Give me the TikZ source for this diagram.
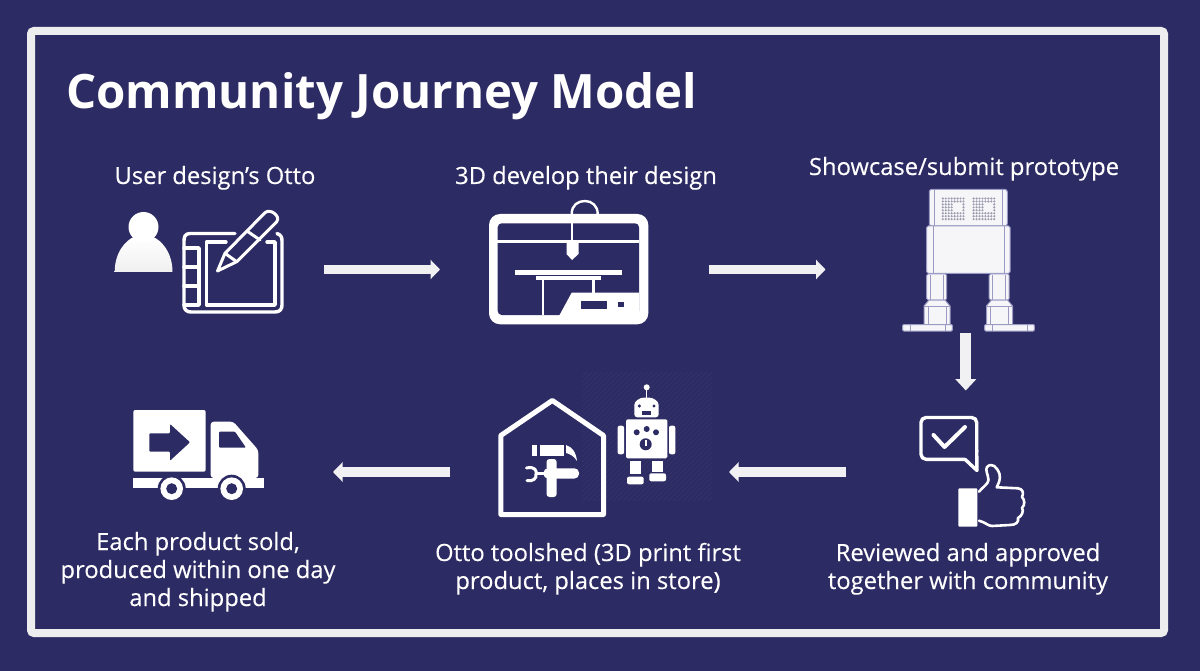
\documentclass[tikz,border=0pt]{standalone}
\usepackage{fontspec}
\setmainfont{Open Sans}
\newfontfamily\capf[FakeBold=0.25]{Open Sans}
\usetikzlibrary{arrows.meta}
\definecolor{bgc}{HTML}{2D2B63}
\definecolor{framec}{HTML}{EDEDEF}
\definecolor{arrowc}{HTML}{F1F1F3}
\definecolor{otline}{HTML}{9A9AC4}
\definecolor{otfill}{HTML}{F6F6F9}
\definecolor{otdot}{HTML}{9C9CAE}
\definecolor{hatchc}{HTML}{343269}
\tikzset{
  caption/.style={text=white,font=\capf\fontsize{23.75}{24}\selectfont,anchor=base,inner sep=0pt,align=center},
  titletext/.style={text=white,font=\fontsize{47.4}{47}\selectfont\bfseries,anchor=base west,inner sep=0pt},
  flowh/.style={draw=arrowc,line width=9.5pt,-{Triangle[width=19pt,length=9.5pt,fill=arrowc]},shorten >=0pt},
  flowv/.style={draw=arrowc,line width=11pt,-{Triangle[width=20.5pt,length=11.5pt,fill=arrowc]}},
  iconline/.style={draw=white,line width=3.4pt,line cap=round,line join=round},
  otpart/.style={fill=otfill,draw=otline,line width=1pt,line join=round},
}
\begin{document}
\begin{tikzpicture}[x=1pt,y=-1pt]
\useasboundingbox (0,0) rectangle (1200,671);
\fill[bgc] (0,0) rectangle (1200,671);
\draw[framec,line width=8pt,rounded corners=3pt] (31,31) rectangle (1164,633);
\node[titletext] (title) at (66,109) {Community Journey Model};

% captions
\node[caption] (c1) at (215,184) {User design’s Otto};
\node[caption] (c2) at (586,184) {3D develop their design};
\node[caption] (c3) at (964,175) {Showcase/submit prototype};
\node[caption,align=center] (c4a) at (968,561) {Reviewed and approved};
\node[caption] (c4b) at (968,589) {together with community};
\node[caption] (c5a) at (588,561) {Otto toolshed (3D print first};
\node[caption] (c5b) at (588,589) {product, places in store)};
\node[caption] (c6a) at (198,550) {Each product sold,};
\node[caption] (c6b) at (198,578) {produced within one day};
\node[caption] (c6c) at (198,606) {and shipped};

% arrow end points
\coordinate (a1s) at (323.5,269.5); \coordinate (a1e) at (440,269.5);
\coordinate (a2s) at (708.5,269.5); \coordinate (a2e) at (825.5,269.5);
\coordinate (a3s) at (965.8,333);   \coordinate (a3e) at (965.8,390.5);
\coordinate (a4s) at (846,472);     \coordinate (a4e) at (729,472);
\coordinate (a5s) at (450,472);     \coordinate (a5e) at (333,472);
\draw[flowh] (a1s) -- (a1e);
\draw[flowh] (a2s) -- (a2e);
\draw[flowv] (a3s) -- (a3e);
\draw[flowh] (a4s) -- (a4e);
\draw[flowh] (a5s) -- (a5e);

% --- person
\shade[top color=white,bottom color=white!88!gray,draw=none]
  (114.7,272) .. controls (114.7,252) and (126,240) .. (134,237) -- (153,237)
  .. controls (161,240) and (172.5,252) .. (172.5,272) -- cycle;
\fill[white] (143.5,227) circle (15);

% --- tablet
\draw[iconline] (235,233.5) -- (190,233.5) .. controls (185,233.5) and (184,237) .. (184,241) -- (184,305)
  .. controls (184,310) and (187,312) .. (191,312) -- (275,312) .. controls (280,312) and (282,309) .. (282,305)
  -- (282,241) .. controls (282,237) and (281,235) .. (277,233.5);
\draw[iconline] (184,248) -- (199,248) -- (199,305) -- (184,305);
\draw[iconline] (184,267) -- (199,267);
\draw[iconline] (184,286) -- (199,286);
\draw[iconline] (226,242) -- (206.5,242) -- (206.5,305) -- (275,305) -- (275,242) -- (267,242);
% pen
\draw[iconline,line width=3pt] (217.5,271) -- (225,253.3) -- (265,212.7) .. controls (270,208) and (281,216) .. (276.7,221.7)
  -- (236.7,261.7) -- cycle;
\draw[iconline,line width=3pt] (225,253.3) -- (236.7,261.7);
\draw[iconline,line width=3pt] (248,231.7) -- (260,240);

% --- printer
\fill[white,rounded corners=11pt] (489,214) rectangle (648.3,324.3);
\fill[bgc,rounded corners=4pt] (497.7,223.3) rectangle (639,315);
\draw[white,line width=2.4pt] (497,241.7) -- (639,241.7);
\draw[white,line width=2.4pt] (571.7,223) -- (571.7,214) .. controls (571.7,205) and (578,201) .. (585,201)
  .. controls (592,201) and (597.7,206) .. (597.7,214);
\draw[white,line width=2.4pt] (571.7,223) -- (571.7,245);
\fill[white] (566.5,242) -- (578.5,242) -- (578.5,254) -- (572,260) -- (566.5,254) -- cycle;
\fill[white] (515,270) rectangle (621.7,274.7);
\fill[white] (536,276) rectangle (600.7,279.6);
\fill[white] (541.6,279) rectangle (544.2,315);
\fill[white] (592.2,279) rectangle (594.8,294);
\fill[white] (571.7,292.7) -- (639,292.7) -- (639,316) -- (559,316) -- cycle;
\fill[bgc] (581,300.7) rectangle (607.3,309.3);
\fill[bgc] (618.3,301.7) rectangle (623.7,307.3);

% --- Otto robot
\draw[otpart,rounded corners=2.5pt] (929.3,226) -- (929.3,189.3) -- (1007.3,189.3) -- (1007.3,226) -- cycle;
\draw[otline,line width=1pt] (934,190) -- (934,226) (1002,190) -- (1002,226);
\foreach \ex in {942.8,973.6}{
  \foreach \i in {0,...,7}{
    \foreach \j in {0,...,7}{
      \pgfmathtruncatemacro{\hole}{(\i>=4 && \i<=6 && \j>=2 && \j<=4) ? 1 : 0}
      \ifnum\hole=0
        \fill[otdot] ({\ex+\i*2.95},{198.5+\j*2.95}) circle (1.2);
      \fi
    }
  }
}
\draw[otpart,rounded corners=1.5pt] (926.7,226) rectangle (1010,273.3);
\draw[otline,line width=1pt] (933,226) -- (933,273) (1004,226) -- (1004,273);
\foreach \dx/\fx in {0/0,62.5/82}{
  \begin{scope}[shift={(\dx,0)}]
    \draw[otpart,rounded corners=1.5pt] (926.7,274) rectangle (946.7,300);
    \draw[otline,line width=.8pt] (930,275) -- (930,300) (943,275) -- (943,300);
    \draw[otpart] (924,325) -- (924,306) -- (929,300) -- (945,300) -- (950,306) -- (950,325) -- cycle;
    \draw[otline,line width=.8pt] (928,325) -- (928,306) (946,325) -- (946,306) (924,306) -- (950,306);
  \end{scope}
  \begin{scope}[shift={(\fx,0)}]
    \draw[otpart,rounded corners=1pt] (902.7,324.5) rectangle (952.3,331);
    \draw[otline,line width=.8pt] (910,325) -- (910,331) (945,325) -- (945,331);
  \end{scope}
}

% --- bubble + thumb
\draw[iconline,rounded corners=5pt] (965,459.3) -- (921,459.3) -- (921,417.5) -- (976.7,417.5) -- (976.7,452);
\draw[iconline] (965,459.3) -- (977,470.5) -- (976.7,450);
\draw[iconline,line width=4pt] (933.5,435) -- (944.5,447) -- (965,427);
\fill[white,rounded corners=1pt] (958.3,488.3) rectangle (977.3,526.7);
\draw[iconline,line width=2.6pt] (979,491.7) .. controls (984,486) and (988,484) .. (988.5,480)
  .. controls (988,474) and (985,470) .. (987,467)
  .. controls (992,462) and (997,467) .. (999.5,474)
  .. controls (1001,480) and (998,484) .. (996.7,487.3)
  -- (1018,488.3) .. controls (1023,489) and (1024,493) .. (1022,497)
  .. controls (1025,500) and (1025,505) .. (1022,508)
  .. controls (1024,511) and (1022,516) .. (1018,518)
  .. controls (1019,522) and (1016,525) .. (1010,525)
  -- (992,526) .. controls (988,526) and (985,522) .. (979,520.7);

% --- hatch behind robot
\begin{scope}
  \clip (582,372) rectangle (712,500);
  \foreach \k in {0,5,...,270}{
    \draw[hatchc,line width=1pt] ({582+\k},372) -- ({582+\k-135},507);
  }
\end{scope}

% --- house
\draw[white,line width=5pt,line join=round] (500.8,435.5) -- (552.3,400.5) -- (603.5,435.5) -- (603.5,514.5) -- (500.8,514.5) -- cycle;

% tools
\fill[white] (531.7,445) rectangle (537,456);
\fill[white] (540,445) rectangle (564,456);
\fill[white] (566,445) .. controls (572,447) and (576,452) .. (577,461) .. controls (574,456) and (570,454) .. (566,453) -- cycle;
\fill[white,rounded corners=3pt] (546.5,459) rectangle (556.7,497);
\fill[white,rounded corners=4.5pt] (543.5,468.3) rectangle (579,478.5);
\draw[white,line width=3pt,line cap=round] (526.5,468) .. controls (535,466) and (537,471) .. (536,474) .. controls (537,478) and (533,482) .. (527,480.5);
\fill[white] (536,472) rectangle (543.5,475);

% --- small robot
\fill[white] (646.7,387.3) circle (3);
\draw[white,line width=1.4pt] (646.7,388) -- (646.7,398);
\fill[white,rounded corners=3pt] (634.3,417.3) -- (634.3,408) .. controls (634.3,401) and (640,397.7) .. (646.5,397.7)
  .. controls (653,397.7) and (658.7,401) .. (658.7,408) -- (658.7,417.3) -- cycle;
\fill[bgc] (639.3,406) circle (1.7) (654,406) circle (1.7);
\fill[bgc] (642.3,410.7) rectangle (650.7,415);
\fill[white,rounded corners=1.5pt] (626,419.3) rectangle (667.3,458.3);
\fill[bgc] (636.7,432.3) circle (3) (646.7,429) circle (3) (656,432.3) circle (3) (645.7,444.3) circle (6);
\fill[white] (645,439.5) rectangle (646.6,445.5);
\fill[white,rounded corners=2pt] (617.7,425.7) rectangle (624,454.3);
\fill[white,rounded corners=2pt] (669,425.7) rectangle (675.3,454.3);
\fill[white] (630,460.7) rectangle (640.7,474);
\fill[white] (652.3,460.7) rectangle (662.7,471.7);
\fill[white,rounded corners=2pt] (627,476.7) rectangle (643.7,484.3);
\fill[white,rounded corners=2pt] (649.3,473.3) rectangle (666,481.3);

% --- truck
\fill[white,rounded corners=2pt] (133.3,410) rectangle (205.7,471.7);
\fill[bgc,rounded corners=1pt] (149.3,433.3) -- (170,433.3) -- (170,424) -- (190,442.3) -- (170,460.7) -- (170,451.7) -- (149.3,451.7) -- cycle;
\fill[white,rounded corners=3pt] (210.7,478) -- (210.7,421.7) -- (233.3,421.7) -- (258.3,450) -- (258.3,478) -- cycle;
\fill[bgc,rounded corners=1pt] (219,431.7) -- (235,431.7) -- (246,447.7) -- (219,447.7) -- cycle;
\fill[white] (133.3,478) rectangle (264,487.7);
\fill[bgc] (171.7,488.7) circle (14) (231.7,488.7) circle (14);
\fill[white] (171.7,488.7) circle (11.3) (231.7,488.7) circle (11.3);
\fill[bgc] (171.7,488.7) circle (5.5) (231.7,488.7) circle (5.5);
\end{tikzpicture}
\end{document}
